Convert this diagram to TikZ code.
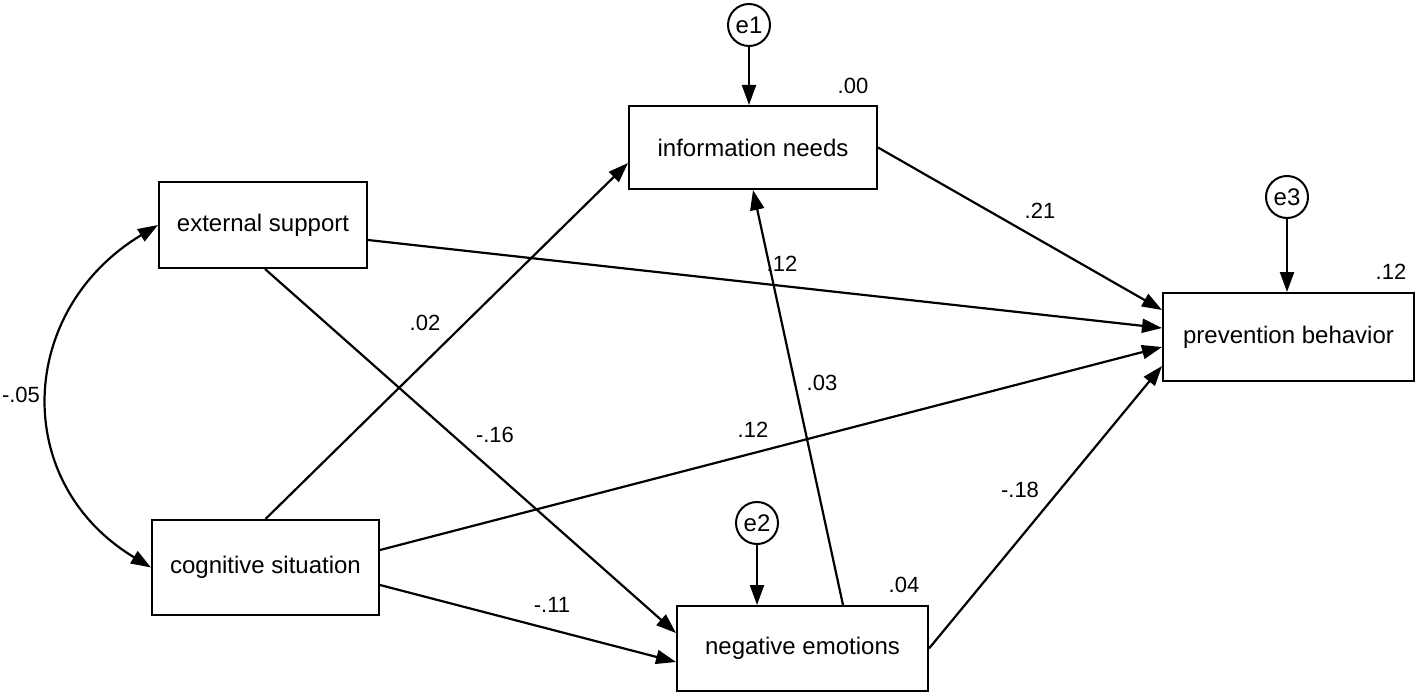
\documentclass[tikz,border=0pt]{standalone}
\usepackage{fontspec}
\setmainfont{Liberation Sans}
\usetikzlibrary{arrows.meta,calc}

\begin{document}
\begin{tikzpicture}[x=0.5pt,y=0.5pt,yscale=-1,xscale=1,
    obs/.style={draw,line width=1pt,inner sep=0pt,font=\fontsize{12}{14}\selectfont},
    err/.style={draw,circle,line width=1pt,minimum size=21pt,inner sep=0pt,font=\fontsize{12}{14}\selectfont},
    coef/.style={inner sep=0.75pt,font=\fontsize{11}{13}\selectfont},
    reg/.style={line width=1.1pt,-{Triangle[length=10pt,width=7pt]}}]
\useasboundingbox (0,0) rectangle (1416,695);
% observed variables
\node [obs,minimum width=124pt,minimum height=41.5pt] (info) at (753,147.5) {information needs};
\node [obs,minimum width=104pt,minimum height=43pt] (ext) at (263,225) {external support};
\node [obs,minimum width=125.5pt,minimum height=44pt] (prev) at (1288.5,337) {prevention behavior};
\node [obs,minimum width=113.5pt,minimum height=47.5pt] (cog) at (265.5,567.5) {cognitive situation};
\node [obs,minimum width=125.5pt,minimum height=42.5pt] (neg) at (802.5,648.5) {negative emotions};
% error terms
\node [err] (e1) at (749,25) {e1};
\node [err] (e2) at (757,523) {e2};
\node [err] (e3) at (1287,197) {e3};
\draw [reg] (e1.south) -- (e1.south |- info.north);
\draw [reg] (e2.south) -- (e2.south |- neg.north);
\draw [reg] (e3.south) -- (e3.south |- prev.north);
% paths
\draw [reg] (cog.north) -- ($(info.west)+(0,15.5)$);
\draw [reg] ($(ext.south)+(2,0)$) -- ($(neg.west)+(0,-15.5)$);
\draw [reg] ($(ext.east)+(0,15)$) -- ($(prev.west)+(0,-9)$);
\draw [reg] ($(cog.east)+(0,-17.5)$) -- ($(prev.west)+(0,10)$);
\draw [reg] ($(cog.east)+(0,17.5)$) -- ($(neg.west)+(0,13.5)$);
\draw [reg] (info.east) -- ($(prev.west)+(0,-27)$);
\draw [reg] (neg.east) -- ($(prev.west)+(0,29)$);
\draw [reg] ($(neg.north)+(40.5,0)$) -- (info.south);
% covariance
\draw [line width=1.1pt,{Triangle[length=10pt,width=7pt]}-{Triangle[length=10pt,width=7pt]}] (ext.west) .. controls ($(ext.west)+(-141,85)$) and ($(cog.west)+(-141,-85)$) .. (cog.west);
% estimates
\node [coef] (r1) at (853,86) {.00};
\node [coef] (r2) at (904,585) {.04};
\node [coef] (r3) at (1391,272) {.12};
\node [coef] (c1) at (21,395) {-.05};
\node [coef] (b1) at (425,323) {.02};
\node [coef] (b2) at (495,435) {-.16};
\node [coef] (b3) at (782,264) {.12};
\node [coef] (b4) at (753,430) {.12};
\node [coef] (b5) at (552,605) {-.11};
\node [coef] (b6) at (822,383) {.03};
\node [coef] (b7) at (1040,211) {.21};
\node [coef] (b8) at (1020,490) {-.18};
\end{tikzpicture}
\end{document}
